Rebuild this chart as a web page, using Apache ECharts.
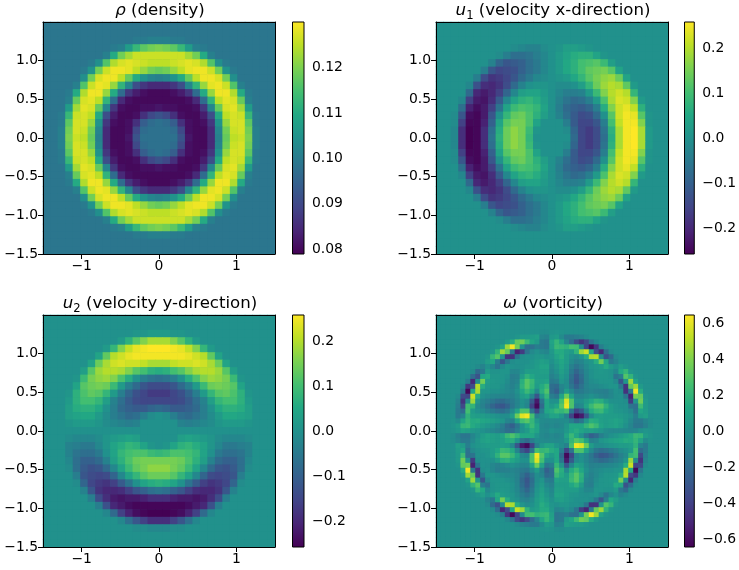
<!DOCTYPE html>
<html>
<head>
<meta charset="utf-8">
<script src="https://cdn.jsdelivr.net/npm/echarts@6/dist/echarts.min.js"></script>
<style>
  html, body { margin: 0; background: #fff; }
  #chart { width: 739px; height: 570px; }
</style>
</head>
<body>
<div id="chart"></div>
<script>
// values; top row first, left to right
// density in thousandths
var rhoRows = [
  [99,99,99,99,99,99,99,99,99,99,99,99,99,99,99,99,99,99,99,99,99,99,99,99,99,99,99,99,99,99,99],
  [99,99,99,99,99,99,99,99,99,99,99,99,99,99,99,99,99,99,99,99,99,99,99,99,99,99,99,99,99,99,99],
  [99,99,99,99,99,99,99,99,99,99,99,99,100,100,101,101,101,100,100,99,99,99,99,99,99,99,99,99,99,99,99],
  [99,99,99,99,99,99,99,99,99,100,101,107,113,117,119,120,119,117,113,107,101,100,99,99,99,99,99,99,99,99,99],
  [99,99,99,99,99,99,99,99,101,110,119,123,126,126,126,126,126,126,126,123,119,110,101,99,99,99,99,99,99,99,99],
  [99,99,99,99,99,99,100,104,116,124,127,128,127,126,125,125,125,126,127,128,127,124,116,104,100,99,99,99,99,99,99],
  [99,99,99,99,99,100,105,119,126,129,129,128,125,122,119,118,119,122,125,128,129,129,126,119,105,100,99,99,99,99,99],
  [99,99,99,99,99,104,119,127,129,129,125,118,110,105,102,101,102,105,110,118,125,129,129,127,119,104,99,99,99,99,99],
  [99,99,99,99,101,116,126,129,128,122,112,102,91,87,85,85,85,87,91,102,112,122,128,129,126,116,101,99,99,99,99],
  [99,99,99,100,110,124,129,129,122,110,97,87,83,81,80,80,80,81,83,87,97,110,122,129,129,124,110,100,99,99,99],
  [99,99,99,101,118,127,128,125,112,97,85,81,80,80,80,80,80,80,80,81,85,97,112,125,128,127,118,101,99,99,99],
  [99,99,99,107,123,128,127,118,102,87,81,80,80,81,81,82,81,81,80,80,81,87,102,118,127,128,123,107,99,99,99],
  [99,99,100,113,126,127,125,110,91,83,80,80,81,86,90,92,90,86,81,80,80,83,91,110,125,127,126,113,100,99,99],
  [99,99,100,117,127,127,122,105,87,81,80,81,86,94,97,98,97,94,86,81,80,81,87,105,122,127,127,117,100,99,99],
  [99,99,101,119,127,126,119,102,85,80,80,81,90,97,98,98,98,97,90,81,80,80,85,102,119,126,127,119,101,99,99],
  [99,99,101,120,126,125,118,101,85,80,80,82,92,98,98,98,98,98,92,82,80,80,85,101,118,125,126,120,101,99,99],
  [99,99,101,119,127,126,119,102,85,80,80,81,90,97,98,98,98,97,90,81,80,80,85,102,119,126,127,119,101,99,99],
  [99,99,100,117,127,127,122,105,87,81,80,81,86,94,97,98,97,94,86,81,80,81,87,105,122,127,127,117,100,99,99],
  [99,99,100,113,126,127,125,110,91,83,80,80,81,86,90,92,90,86,81,80,80,83,91,110,125,127,126,113,100,99,99],
  [99,99,99,107,123,128,127,118,102,87,81,80,80,81,81,82,81,81,80,80,81,87,102,118,127,128,123,107,99,99,99],
  [99,99,99,101,118,127,128,125,112,97,85,81,80,80,80,80,80,80,80,81,85,97,112,125,128,127,118,101,99,99,99],
  [99,99,99,100,110,124,129,129,122,110,97,87,83,81,80,80,80,81,83,87,97,110,122,129,129,124,110,100,99,99,99],
  [99,99,99,99,101,116,126,129,128,122,112,102,91,87,85,85,85,87,91,102,112,122,128,129,126,116,101,99,99,99,99],
  [99,99,99,99,99,104,119,127,129,129,125,118,110,105,102,101,102,105,110,118,125,129,129,127,119,104,99,99,99,99,99],
  [99,99,99,99,99,100,105,119,126,129,129,128,125,122,119,118,119,122,125,128,129,129,126,119,105,100,99,99,99,99,99],
  [99,99,99,99,99,99,100,104,116,124,127,128,127,126,125,125,125,126,127,128,127,124,116,104,100,99,99,99,99,99,99],
  [99,99,99,99,99,99,99,99,101,110,119,123,126,126,126,126,126,126,126,123,119,110,101,99,99,99,99,99,99,99,99],
  [99,99,99,99,99,99,99,99,99,100,101,107,113,117,119,120,119,117,113,107,101,100,99,99,99,99,99,99,99,99,99],
  [99,99,99,99,99,99,99,99,99,99,99,99,100,100,101,101,101,100,100,99,99,99,99,99,99,99,99,99,99,99,99],
  [99,99,99,99,99,99,99,99,99,99,99,99,99,99,99,99,99,99,99,99,99,99,99,99,99,99,99,99,99,99,99],
  [99,99,99,99,99,99,99,99,99,99,99,99,99,99,99,99,99,99,99,99,99,99,99,99,99,99,99,99,99,99,99]
];

// velocities in hundredths
var u1Rows = [
  [0,0,0,0,0,0,0,0,0,0,0,0,0,0,0,0,0,0,0,0,0,0,0,0,0,0,0,0,0,0,0],
  [0,0,0,0,0,0,0,0,0,0,0,0,0,0,0,0,0,0,0,0,0,0,0,0,0,0,0,0,0,0,0],
  [0,0,0,0,0,0,0,0,0,0,0,0,0,0,0,0,0,0,0,0,0,0,0,0,0,0,0,0,0,0,0],
  [0,0,0,0,0,0,0,0,0,0,-1,-2,-3,-3,-1,0,1,3,3,2,1,0,0,0,0,0,0,0,0,0,0],
  [0,0,0,0,0,0,0,0,-1,-4,-7,-7,-6,-4,-2,0,2,4,6,7,7,4,1,0,0,0,0,0,0,0,0],
  [0,0,0,0,0,0,0,-3,-9,-12,-11,-10,-7,-5,-2,0,2,5,7,10,11,12,9,3,0,0,0,0,0,0,0],
  [0,0,0,0,0,0,-4,-12,-15,-14,-13,-10,-7,-5,-2,0,2,5,7,10,13,14,15,12,4,0,0,0,0,0,0],
  [0,0,0,0,0,-4,-14,-18,-17,-15,-12,-8,-5,-2,-1,0,1,2,5,8,12,15,17,18,14,4,0,0,0,0,0],
  [0,0,0,0,-2,-13,-19,-20,-18,-14,-8,-3,0,1,1,0,-1,-1,0,3,8,14,18,20,19,13,2,0,0,0,0],
  [0,0,0,0,-8,-20,-22,-20,-16,-9,-2,3,4,4,2,0,-2,-4,-4,-3,2,9,16,20,22,20,8,0,0,0,0],
  [0,0,0,-2,-16,-22,-23,-19,-11,-2,4,7,8,6,3,0,-3,-6,-8,-7,-4,2,11,19,23,22,16,2,0,0,0],
  [0,0,0,-7,-21,-24,-22,-16,-6,4,9,11,10,8,4,0,-4,-8,-10,-11,-9,-4,6,16,22,24,21,7,0,0,0],
  [0,0,-1,-12,-24,-25,-22,-12,0,8,13,14,11,7,3,0,-3,-7,-11,-14,-13,-8,0,12,22,25,24,12,1,0,0],
  [0,0,-1,-16,-25,-25,-21,-10,4,12,15,15,11,4,0,0,0,-4,-11,-15,-15,-12,-4,10,21,25,25,16,1,0,0],
  [0,0,-2,-19,-26,-25,-19,-7,6,14,17,15,9,1,0,0,0,-1,-9,-15,-17,-14,-6,7,19,25,26,19,2,0,0],
  [0,0,-2,-19,-26,-25,-19,-6,7,14,17,15,8,0,0,0,0,0,-8,-15,-17,-14,-7,6,19,25,26,19,2,0,0],
  [0,0,-2,-19,-26,-25,-19,-7,6,14,17,15,9,1,0,0,0,-1,-9,-15,-17,-14,-6,7,19,25,26,19,2,0,0],
  [0,0,-1,-16,-25,-25,-21,-10,4,12,15,15,11,4,0,0,0,-4,-11,-15,-15,-12,-4,10,21,25,25,16,1,0,0],
  [0,0,-1,-12,-24,-25,-22,-12,0,8,13,14,11,7,3,0,-3,-7,-11,-14,-13,-8,0,12,22,25,24,12,1,0,0],
  [0,0,0,-7,-21,-24,-22,-16,-6,4,9,11,10,8,4,0,-4,-8,-10,-11,-9,-4,6,16,22,24,21,7,0,0,0],
  [0,0,0,-2,-16,-22,-23,-19,-11,-2,4,7,8,6,3,0,-3,-6,-8,-7,-4,2,11,19,23,22,16,2,0,0,0],
  [0,0,0,0,-8,-20,-22,-20,-16,-9,-2,3,4,4,2,0,-2,-4,-4,-3,2,9,16,20,22,20,8,0,0,0,0],
  [0,0,0,0,-2,-13,-19,-20,-18,-14,-8,-3,0,1,1,0,-1,-1,0,3,8,14,18,20,19,13,2,0,0,0,0],
  [0,0,0,0,0,-4,-14,-18,-17,-15,-12,-8,-5,-2,-1,0,1,2,5,8,12,15,17,18,14,4,0,0,0,0,0],
  [0,0,0,0,0,0,-4,-12,-15,-14,-13,-10,-7,-5,-2,0,2,5,7,10,13,14,15,12,4,0,0,0,0,0,0],
  [0,0,0,0,0,0,0,-3,-9,-12,-11,-10,-7,-5,-2,0,2,5,7,10,11,12,9,3,0,0,0,0,0,0,0],
  [0,0,0,0,0,0,0,0,-1,-4,-7,-7,-6,-4,-2,0,2,4,6,7,7,4,1,0,0,0,0,0,0,0,0],
  [0,0,0,0,0,0,0,0,0,0,-1,-2,-3,-3,-1,0,1,3,3,2,1,0,0,0,0,0,0,0,0,0,0],
  [0,0,0,0,0,0,0,0,0,0,0,0,0,0,0,0,0,0,0,0,0,0,0,0,0,0,0,0,0,0,0],
  [0,0,0,0,0,0,0,0,0,0,0,0,0,0,0,0,0,0,0,0,0,0,0,0,0,0,0,0,0,0,0],
  [0,0,0,0,0,0,0,0,0,0,0,0,0,0,0,0,0,0,0,0,0,0,0,0,0,0,0,0,0,0,0]
];

var u2Rows = [
  [0,0,0,0,0,0,0,0,0,0,0,0,0,0,0,0,0,0,0,0,0,0,0,0,0,0,0,0,0,0,0],
  [0,0,0,0,0,0,0,0,0,0,0,0,0,0,0,0,0,0,0,0,0,0,0,0,0,0,0,0,0,0,0],
  [0,0,0,0,0,0,0,0,0,0,0,0,1,1,2,2,2,1,1,0,0,0,0,0,0,0,0,0,0,0,0],
  [0,0,0,0,0,0,0,0,0,0,2,7,12,16,19,19,19,16,12,7,2,0,0,0,0,0,0,0,0,0,0],
  [0,0,0,0,0,0,0,0,2,8,16,21,24,25,26,26,26,25,24,21,16,8,2,0,0,0,0,0,0,0,0],
  [0,0,0,0,0,0,0,4,13,20,22,24,25,25,25,25,25,25,25,24,22,20,13,4,0,0,0,0,0,0,0],
  [0,0,0,0,0,0,4,14,19,22,23,22,22,21,19,19,19,21,22,22,23,22,19,14,4,0,0,0,0,0,0],
  [0,0,0,0,0,3,12,18,20,20,19,16,12,10,7,6,7,10,12,16,19,20,20,18,12,3,0,0,0,0,0],
  [0,0,0,0,1,9,15,17,18,16,11,6,0,-4,-6,-7,-6,-4,0,6,11,16,18,17,15,9,1,0,0,0,0],
  [0,0,0,0,4,12,14,15,14,9,2,-4,-8,-12,-14,-14,-14,-12,-8,-4,2,9,14,15,14,12,4,0,0,0,0],
  [0,0,0,1,7,11,13,12,8,2,-4,-9,-13,-15,-17,-17,-17,-15,-13,-9,-4,2,8,12,13,11,7,1,0,0,0],
  [0,0,0,2,7,10,10,8,3,-3,-7,-11,-14,-15,-15,-15,-15,-15,-14,-11,-7,-3,3,8,10,10,7,2,0,0,0],
  [0,0,0,3,6,7,7,5,0,-4,-8,-10,-11,-11,-9,-8,-9,-11,-11,-10,-8,-4,0,5,7,7,6,3,0,0,0],
  [0,0,0,3,4,5,5,2,-1,-4,-6,-8,-7,-4,-1,0,-1,-4,-7,-8,-6,-4,-1,2,5,5,4,3,0,0,0],
  [0,0,0,1,2,2,2,1,-1,-2,-3,-4,-3,0,0,0,0,0,-3,-4,-3,-2,-1,1,2,2,2,1,0,0,0],
  [0,0,0,0,0,0,0,0,0,0,0,0,0,0,0,0,0,0,0,0,0,0,0,0,0,0,0,0,0,0,0],
  [0,0,0,-1,-2,-2,-2,-1,1,2,3,4,3,0,0,0,0,0,3,4,3,2,1,-1,-2,-2,-2,-1,0,0,0],
  [0,0,0,-3,-4,-5,-5,-2,1,4,6,8,7,4,1,0,1,4,7,8,6,4,1,-2,-5,-5,-4,-3,0,0,0],
  [0,0,0,-3,-6,-7,-7,-5,0,4,8,10,11,11,9,8,9,11,11,10,8,4,0,-5,-7,-7,-6,-3,0,0,0],
  [0,0,0,-2,-7,-10,-10,-8,-3,3,7,11,14,15,15,15,15,15,14,11,7,3,-3,-8,-10,-10,-7,-2,0,0,0],
  [0,0,0,-1,-7,-11,-13,-12,-8,-2,4,9,13,15,17,17,17,15,13,9,4,-2,-8,-12,-13,-11,-7,-1,0,0,0],
  [0,0,0,0,-4,-12,-14,-15,-14,-9,-2,4,8,12,14,14,14,12,8,4,-2,-9,-14,-15,-14,-12,-4,0,0,0,0],
  [0,0,0,0,-1,-9,-15,-17,-18,-16,-11,-6,0,4,6,7,6,4,0,-6,-11,-16,-18,-17,-15,-9,-1,0,0,0,0],
  [0,0,0,0,0,-3,-12,-18,-20,-20,-19,-16,-12,-10,-7,-6,-7,-10,-12,-16,-19,-20,-20,-18,-12,-3,0,0,0,0,0],
  [0,0,0,0,0,0,-4,-14,-19,-22,-23,-22,-22,-21,-19,-19,-19,-21,-22,-22,-23,-22,-19,-14,-4,0,0,0,0,0,0],
  [0,0,0,0,0,0,0,-4,-13,-20,-22,-24,-25,-25,-25,-25,-25,-25,-25,-24,-22,-20,-13,-4,0,0,0,0,0,0,0],
  [0,0,0,0,0,0,0,0,-2,-8,-16,-21,-24,-25,-26,-26,-26,-25,-24,-21,-16,-8,-2,0,0,0,0,0,0,0,0],
  [0,0,0,0,0,0,0,0,0,0,-2,-7,-12,-16,-19,-19,-19,-16,-12,-7,-2,0,0,0,0,0,0,0,0,0,0],
  [0,0,0,0,0,0,0,0,0,0,0,0,-1,-1,-2,-2,-2,-1,-1,0,0,0,0,0,0,0,0,0,0,0,0],
  [0,0,0,0,0,0,0,0,0,0,0,0,0,0,0,0,0,0,0,0,0,0,0,0,0,0,0,0,0,0,0],
  [0,0,0,0,0,0,0,0,0,0,0,0,0,0,0,0,0,0,0,0,0,0,0,0,0,0,0,0,0,0,0]
];

// vorticity in hundredths, finer grid because the arcs are thin
var omegaRows = [
  [0,0,0,0,0,0,0,0,0,0,0,0,0,0,0,0,0,0,0,0,0,0,0,0,0,0,0,0,0,0,0,0,0,0,0,0,0,0,0,0,0,0,0,0,0,0,0],
  [0,0,0,0,0,0,0,0,0,0,0,0,0,0,0,0,0,0,0,0,0,0,0,0,0,0,0,0,0,0,0,0,0,0,0,0,0,0,0,0,0,0,0,0,0,0,0],
  [0,0,0,0,0,0,0,0,0,0,0,0,0,0,0,0,0,0,0,0,0,0,0,0,0,0,0,0,0,0,0,0,0,0,0,0,0,0,0,0,0,0,0,0,0,0,0],
  [0,0,0,0,0,0,0,0,0,0,0,0,0,0,0,0,0,0,0,0,0,-2,-2,1,2,1,0,0,0,0,0,0,0,0,0,0,0,0,0,0,0,0,0,0,0,0,0],
  [0,0,0,0,0,0,0,0,0,0,0,0,0,0,0,0,2,5,5,6,8,-6,-8,4,6,-3,-12,-12,-10,-7,-3,0,0,0,0,0,0,0,0,0,0,0,0,0,0,0,0],
  [0,0,0,0,0,0,0,0,0,0,0,0,0,0,5,15,33,36,23,11,5,-12,-14,10,20,10,-6,-19,-36,-45,-36,-15,-5,0,0,0,0,0,0,0,0,0,0,0,0,0,0],
  [0,0,0,0,0,0,0,0,0,0,0,0,2,10,45,62,36,2,-17,-16,-10,-12,-14,8,22,20,18,25,24,-3,-38,-62,-44,-10,-2,0,0,0,0,0,0,0,0,0,0,0,0],
  [0,0,0,0,0,0,0,0,0,0,0,3,19,45,33,-12,-52,-42,-15,-4,0,-4,-6,4,14,14,8,5,19,45,54,12,-35,-50,-19,-3,0,0,0,0,0,0,0,0,0,0,0],
  [0,0,0,0,0,0,0,0,0,0,3,20,29,2,-45,-46,-15,-2,0,0,3,3,0,2,10,15,6,0,-3,2,15,48,50,-2,-32,-20,-3,0,0,0,0,0,0,0,0,0,0],
  [0,0,0,0,0,0,0,0,0,0,7,13,-10,-30,-13,-2,0,0,0,2,5,8,6,0,6,12,6,-3,-8,-6,0,3,15,36,11,-13,-7,0,0,0,0,0,0,0,0,0,0],
  [0,0,0,0,0,0,0,0,-3,-7,0,-5,-15,-4,2,0,-1,0,2,3,6,10,10,-3,3,10,4,-8,-15,-10,-3,2,4,6,14,5,0,7,3,0,0,0,0,0,0,0,0],
  [0,0,0,0,0,0,0,-3,-20,-13,5,1,1,2,2,-5,-5,0,6,6,6,8,8,-5,0,8,2,-12,-22,-14,-5,0,3,4,3,1,-5,13,20,3,0,0,0,0,0,0,0],
  [0,0,0,0,0,0,-2,-19,-32,11,14,3,3,2,0,-10,-8,6,18,12,6,6,6,-8,-4,5,0,-16,-28,-18,-6,0,3,3,3,1,-15,-10,29,19,2,0,0,0,0,0,0],
  [0,0,0,0,0,0,-10,-50,-2,36,6,4,3,2,-2,-9,-6,16,30,22,8,8,10,-12,-10,2,-2,-18,-30,-20,-7,-2,0,2,2,2,-4,-30,2,45,10,0,0,0,0,0,0],
  [0,0,0,0,0,-5,-44,-35,50,15,4,3,3,0,-4,-8,-3,18,30,20,6,14,22,-18,-20,-6,-2,-14,-24,-16,-7,-4,-4,-2,0,2,2,-13,-45,33,45,5,0,0,0,0,0],
  [0,0,0,0,0,-15,-62,12,48,3,2,0,0,-2,-4,-6,0,12,22,14,-4,16,28,-18,-25,-8,6,-4,-14,-12,-8,-6,-8,-9,-10,-5,0,-2,-46,-12,62,15,0,0,0,0,0],
  [0,0,0,0,-3,-36,-38,54,15,0,-3,-5,-6,-7,-7,-8,-3,6,10,-6,-30,2,20,-10,-14,10,35,10,-6,-6,-3,0,-3,-6,-8,-5,-1,0,-15,-52,36,33,2,0,0,0,0],
  [0,0,0,0,-7,-45,-3,45,2,-6,-10,-14,-18,-20,-16,-12,-6,0,-4,-28,-55,-14,12,0,0,25,58,28,0,0,6,12,18,16,6,0,0,0,-2,-42,2,36,5,0,0,0,0],
  [0,0,0,0,-10,-36,24,19,-3,-8,-15,-22,-28,-30,-24,-14,-6,0,-6,-38,-62,-20,12,5,12,30,62,28,-6,-4,10,22,30,30,18,6,2,0,0,-15,-17,23,5,0,0,0,0],
  [0,0,0,0,-12,-19,25,5,0,-3,-8,-12,-16,-18,-14,-4,10,28,28,-15,-38,-10,12,15,22,20,26,-15,-38,-28,-6,14,20,22,12,6,3,2,0,-4,-16,11,6,0,0,0,0],
  [0,0,0,0,-12,-6,18,8,6,6,4,2,0,-2,-2,6,35,58,62,26,-8,-2,2,10,10,4,-8,-38,-62,-55,-30,-4,6,8,6,6,6,5,3,0,-10,5,8,0,0,0,0],
  [0,0,0,1,-3,10,20,14,15,12,10,8,5,2,-6,-8,10,25,30,20,4,-3,-4,-3,-4,-3,-2,-10,-20,-14,2,16,14,8,6,8,10,8,3,-4,-12,-12,-6,-2,0,0,0],
  [0,0,0,2,6,20,22,14,10,6,3,0,-4,-10,-20,-25,-14,0,12,22,10,-4,-6,-4,-6,-4,2,12,12,12,20,28,22,10,6,8,10,6,0,-6,-14,-14,-8,-2,0,0,0],
  [0,0,0,1,4,10,8,4,2,0,-3,-5,-8,-12,-18,-18,-10,0,5,15,10,-3,-4,0,-2,-2,4,12,15,10,6,8,5,2,-2,-4,-4,-4,-5,-6,-5,0,2,1,0,0,0],
  [0,0,0,-2,-8,-14,-14,-6,0,6,10,8,6,10,22,28,20,12,12,12,2,-4,-6,-4,-6,-4,10,22,12,0,-14,-25,-20,-10,-4,0,3,6,10,14,22,20,6,2,0,0,0],
  [0,0,0,-2,-6,-12,-12,-4,3,8,10,8,6,8,14,16,2,-14,-20,-10,-2,-3,-4,-3,-4,-3,4,20,30,25,10,-8,-6,2,5,8,10,12,15,14,20,10,-3,1,0,0,0],
  [0,0,0,0,8,5,-10,0,3,5,6,6,6,8,6,-4,-30,-55,-62,-38,-8,4,10,10,2,-2,-8,26,62,58,35,6,-2,-2,0,2,4,6,6,8,18,-6,-12,0,0,0,0],
  [0,0,0,0,6,11,-16,-4,0,2,3,6,12,22,20,14,-6,-28,-38,-15,26,20,22,15,12,-10,-38,-15,28,28,10,-4,-14,-18,-16,-12,-8,-3,0,5,25,-19,-12,0,0,0,0],
  [0,0,0,0,5,23,-17,-15,0,0,2,6,18,30,30,22,10,-4,-6,28,62,30,12,5,12,-20,-62,-38,-6,0,-6,-14,-24,-30,-28,-22,-15,-8,-3,19,24,-36,-10,0,0,0,0],
  [0,0,0,0,5,36,2,-42,-2,0,0,0,6,16,18,12,6,0,0,28,58,25,0,0,12,-14,-55,-28,-4,0,-6,-12,-16,-20,-18,-14,-10,-6,2,45,-3,-45,-7,0,0,0,0],
  [0,0,0,0,2,33,36,-52,-15,0,-1,-5,-8,-6,-3,0,-3,-6,-6,10,35,10,-14,-10,20,2,-30,-6,10,6,-3,-8,-7,-7,-6,-5,-3,0,15,54,-38,-36,-3,0,0,0,0],
  [0,0,0,0,0,15,62,-12,-46,-2,0,-5,-10,-9,-8,-6,-8,-12,-14,-4,6,-8,-25,-18,28,16,-4,14,22,12,0,-6,-4,-2,0,0,2,3,48,12,-62,-15,0,0,0,0,0],
  [0,0,0,0,0,5,45,33,-45,-13,2,2,0,-2,-4,-4,-7,-16,-24,-14,-2,-6,-20,-18,22,14,6,20,30,18,-3,-8,-4,0,3,3,4,15,50,-35,-44,-5,0,0,0,0,0],
  [0,0,0,0,0,0,10,45,2,-30,-4,2,2,2,0,-2,-7,-20,-30,-18,-2,2,-10,-12,10,8,8,22,30,16,-6,-9,-2,2,3,4,6,36,-2,-50,-10,0,0,0,0,0,0],
  [0,0,0,0,0,0,2,19,29,-10,-15,1,3,3,3,0,-6,-18,-28,-16,0,5,-4,-8,6,6,6,12,18,6,-8,-10,0,2,3,3,14,11,-32,-19,-2,0,0,0,0,0,0],
  [0,0,0,0,0,0,0,3,20,13,-5,1,3,4,3,0,-5,-14,-22,-12,2,8,0,-5,8,8,6,6,6,0,-5,-5,2,2,1,1,5,-13,-20,-3,0,0,0,0,0,0,0],
  [0,0,0,0,0,0,0,0,3,7,0,5,14,6,4,2,-3,-10,-15,-8,4,10,3,-3,10,10,6,3,2,0,-1,0,2,-4,-15,-5,0,-7,-3,0,0,0,0,0,0,0,0],
  [0,0,0,0,0,0,0,0,0,0,-7,-13,11,36,15,3,0,-6,-8,-3,6,12,6,0,6,8,5,2,0,0,0,-2,-13,-30,-10,13,7,0,0,0,0,0,0,0,0,0,0],
  [0,0,0,0,0,0,0,0,0,0,-3,-20,-32,-2,50,48,15,2,-3,0,6,15,10,2,0,3,3,0,0,-2,-15,-46,-45,2,29,20,3,0,0,0,0,0,0,0,0,0,0],
  [0,0,0,0,0,0,0,0,0,0,0,-3,-19,-50,-35,12,54,45,19,5,8,14,14,4,-6,-4,0,-4,-15,-42,-52,-12,33,45,19,3,0,0,0,0,0,0,0,0,0,0,0],
  [0,0,0,0,0,0,0,0,0,0,0,0,-2,-10,-44,-62,-38,-3,24,25,18,20,22,8,-14,-12,-10,-16,-17,2,36,62,45,10,2,0,0,0,0,0,0,0,0,0,0,0,0],
  [0,0,0,0,0,0,0,0,0,0,0,0,0,0,-5,-15,-36,-45,-36,-19,-6,10,20,10,-14,-12,5,11,23,36,33,15,5,0,0,0,0,0,0,0,0,0,0,0,0,0,0],
  [0,0,0,0,0,0,0,0,0,0,0,0,0,0,0,0,-3,-7,-10,-12,-12,-3,6,4,-8,-6,8,6,5,5,2,0,0,0,0,0,0,0,0,0,0,0,0,0,0,0,0],
  [0,0,0,0,0,0,0,0,0,0,0,0,0,0,0,0,0,0,0,0,0,1,2,1,-2,-2,0,0,0,0,0,0,0,0,0,0,0,0,0,0,0,0,0,0,0,0,0],
  [0,0,0,0,0,0,0,0,0,0,0,0,0,0,0,0,0,0,0,0,0,0,0,0,0,0,0,0,0,0,0,0,0,0,0,0,0,0,0,0,0,0,0,0,0,0,0],
  [0,0,0,0,0,0,0,0,0,0,0,0,0,0,0,0,0,0,0,0,0,0,0,0,0,0,0,0,0,0,0,0,0,0,0,0,0,0,0,0,0,0,0,0,0,0,0],
  [0,0,0,0,0,0,0,0,0,0,0,0,0,0,0,0,0,0,0,0,0,0,0,0,0,0,0,0,0,0,0,0,0,0,0,0,0,0,0,0,0,0,0,0,0,0,0]
];

var xTicks = [-1, 0, 1];
var yTicks = [-1.5, -1, -0.5, 0, 0.5, 1];
var rhoTicks = [0.08, 0.09, 0.1, 0.11, 0.12];
var u1Ticks = [-0.2, -0.1, 0, 0.1, 0.2];
var u2Ticks = [-0.2, -0.1, 0, 0.1, 0.2];
var omegaTicks = [-0.6, -0.4, -0.2, 0, 0.2, 0.4, 0.6];

var viridis = ["#440154", "#482475", "#414487", "#355f8d", "#2a788e", "#21918c", "#22a884", "#44bf70", "#7ad151", "#bddf26", "#fde725"];
var FONT = "DejaVu Sans";

var panels = [
  { title: "{i|ρ}{t| (density)}", rows: rhoRows, unit: 1000, min: 0.0789, max: 0.1301, ticks: rhoTicks, digits: 2, left: 43, top: 22, barLeft: 292.5, back: "#2b768e" },
  { title: "{i|u}{s|1}{t| (velocity x-direction)}", rows: u1Rows, unit: 100, min: -0.258, max: 0.258, ticks: u1Ticks, digits: 1, left: 436, top: 22, barLeft: 684.5, back: "#21918c" },
  { title: "{i|u}{s|2}{t| (velocity y-direction)}", rows: u2Rows, unit: 100, min: -0.258, max: 0.258, ticks: u2Ticks, digits: 1, left: 43, top: 315, barLeft: 292.5, back: "#21918c" },
  { title: "{i|ω}{t| (vorticity)}", rows: omegaRows, unit: 100, min: -0.644, max: 0.644, ticks: omegaTicks, digits: 1, left: 436, top: 315, barLeft: 684.5, back: "#21918c" }
];

function fmt(digits) {
  return function (v) { return Number(v).toFixed(digits).replace("-", "\u2212"); };
}

function indexList(n) {
  var out = [];
  for (var i = 0; i < n; i++) out.push(i);
  return out;
}

var gradientStops = viridis.map(function (c, i) {
  return { offset: i / (viridis.length - 1), color: c };
});

function renderBar(params, api) {
  var a = api.coord([0, api.value(0)]);
  var b = api.coord([1, api.value(1)]);
  return {
    type: "rect",
    shape: { x: a[0], y: b[1], width: b[0] - a[0], height: a[1] - b[1] },
    style: {
      fill: new echarts.graphic.LinearGradient(0, 1, 0, 0, gradientStops),
      stroke: "#000",
      lineWidth: 1
    }
  };
}

var tickStyle = { length: 5, lineStyle: { color: "#000", width: 1 } };
var labelStyle = { color: "#000", fontSize: 13.9, fontFamily: FONT, margin: 5 };
var barLabelStyle = { color: "#000", fontSize: 13.9, fontFamily: FONT, margin: 8 };
var lineStyle = { show: true, onZero: false, lineStyle: { color: "#000", width: 1 } };
var titleFont = { color: "#000", fontSize: 16.6, fontFamily: FONT, lineHeight: 24 };

var option = { animation: false, backgroundColor: "#fff", title: [], grid: [], xAxis: [], yAxis: [], visualMap: [], series: [] };

panels.forEach(function (p) {
  var n = p.rows.length;
  var data = [];
  p.rows.forEach(function (row, r) {
    row.forEach(function (v, c) { data.push([c, n - 1 - r, v / p.unit]); });
  });

  var g = option.grid.length;
  // the background keeps thin seams between cells from showing white
  option.grid.push({ left: p.left, top: p.top, width: 232, height: 232, show: true, backgroundColor: p.back, borderWidth: 0 });
  option.title.push({
    text: p.title,
    left: p.left + 112,
    top: p.top - 28.5,
    textAlign: "center",
    textStyle: {
      color: "#000", fontSize: 16.6, fontWeight: "normal", fontFamily: FONT,
      rich: {
        t: titleFont,
        i: Object.assign({}, titleFont, { fontStyle: "italic" }),
        s: { color: "#000", fontSize: 11.6, fontFamily: FONT, height: 14, lineHeight: 14, verticalAlign: "bottom" }
      }
    }
  });

  // value axes carry the ticks, category axes place the cells and close the frame
  var xv = option.xAxis.length;
  option.xAxis.push({
    gridIndex: g, type: "value", min: -1.5, max: 1.5, position: "bottom", z: 5,
    axisLine: lineStyle, splitLine: { show: false },
    axisTick: Object.assign({ customValues: xTicks }, tickStyle),
    axisLabel: Object.assign({ customValues: xTicks, formatter: fmt(0) }, labelStyle)
  });
  option.xAxis.push({
    gridIndex: g, type: "category", data: indexList(p.rows[0].length), position: "top", z: 5,
    axisLine: lineStyle, axisTick: { show: false }, axisLabel: { show: false }, splitLine: { show: false }
  });
  var yv = option.yAxis.length;
  option.yAxis.push({
    gridIndex: g, type: "value", min: -1.5, max: 1.5, position: "left", z: 5,
    axisLine: lineStyle, splitLine: { show: false },
    axisTick: Object.assign({ customValues: yTicks }, tickStyle),
    axisLabel: Object.assign({ customValues: yTicks, formatter: fmt(1) }, labelStyle)
  });
  option.yAxis.push({
    gridIndex: g, type: "category", data: indexList(n), position: "right", z: 5,
    axisLine: lineStyle, axisTick: { show: false }, axisLabel: { show: false }, splitLine: { show: false }
  });

  option.visualMap.push({
    show: false, type: "continuous", seriesIndex: option.series.length, dimension: 2,
    min: p.min, max: p.max, inRange: { color: viridis }
  });
  option.series.push({
    type: "heatmap", xAxisIndex: xv + 1, yAxisIndex: yv + 1, data: data,
    progressive: 0, emphasis: { disabled: true }, silent: true
  });

  // colorbar
  var gb = option.grid.length;
  option.grid.push({ left: p.barLeft, top: p.top, width: 11.5, height: 232 });
  var xb = option.xAxis.length;
  option.xAxis.push({ gridIndex: gb, type: "value", min: 0, max: 1, show: false });
  var yb = option.yAxis.length;
  option.yAxis.push({
    gridIndex: gb, type: "value", min: p.min, max: p.max, position: "right",
    axisLine: { show: false }, splitLine: { show: false },
    axisTick: Object.assign({ customValues: p.ticks }, tickStyle),
    axisLabel: Object.assign({ customValues: p.ticks, formatter: fmt(p.digits) }, barLabelStyle)
  });
  option.series.push({
    type: "custom", xAxisIndex: xb, yAxisIndex: yb, renderItem: renderBar,
    data: [[p.min, p.max]], encode: { y: [0, 1] }, clip: false, silent: true
  });
});

var chart = echarts.init(document.getElementById("chart"));
chart.setOption(option);
</script>
</body>
</html>
